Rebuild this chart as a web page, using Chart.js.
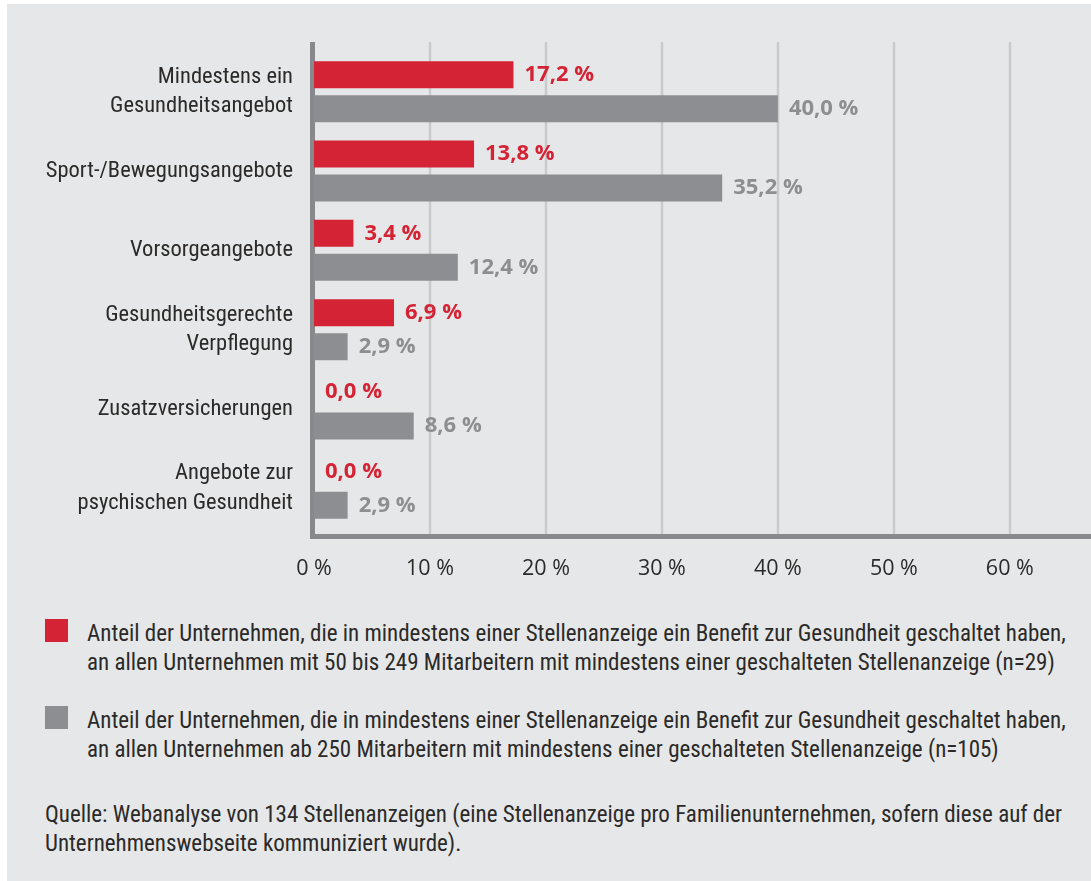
<!DOCTYPE html>
<html>
<head>
<meta charset="utf-8">
<script src="https://cdn.jsdelivr.net/npm/chart.js@4.4.1/dist/chart.umd.min.js"></script>
<style>
    body { margin: 0; background: #fff; font-family: "Roboto Condensed", "Open Sans", sans-serif; color: #2b2a29; }
    #panel { position: absolute; left: 7px; top: 4px; right: 0; bottom: 0; background: #e6e7e8; }
    #chart { position: absolute; left: 0; top: 0; }
    .legend { position: absolute; left: 45px; font-size: 23px; line-height: 29px; }
    .legend .box { position: absolute; left: 0; top: 0; width: 23px; height: 23px; }
    .legend p { margin: 0 0 0 42px; white-space: nowrap; }
    #source { position: absolute; left: 45px; top: 800px; font-size: 23px; line-height: 29px; margin: 0; white-space: nowrap; }
</style>
</head>
<body>
<div id="panel"></div>
<canvas id="chart" width="1091" height="600"></canvas>
<div class="legend" style="top:619px"><div class="box" style="background:#d42335"></div><p id="leg0"></p></div>
<div class="legend" style="top:706px"><div class="box" style="background:#8d8e91"></div><p id="leg1"></p></div>
<p id="source"></p>
<script>
const categories = [
    ['Mindestens ein', 'Gesundheitsangebot'],
    'Sport-/Bewegungsangebote',
    'Vorsorgeangebote',
    ['Gesundheitsgerechte', 'Verpflegung'],
    'Zusatzversicherungen',
    ['Angebote zur', 'psychischen Gesundheit']
];
const small = [17.2, 13.8, 3.4, 6.9, 0.0, 0.0];
const large = [40.0, 35.2, 12.4, 2.9, 8.6, 2.9];
const xTicks = [0, 10, 20, 30, 40, 50, 60];

const seriesNames = [
    ['Anteil der Unternehmen, die in mindestens einer Stellenanzeige ein Benefit zur Gesundheit geschaltet haben,',
     'an allen Unternehmen mit 50 bis 249 Mitarbeitern mit mindestens einer geschalteten Stellenanzeige (n=29)'],
    ['Anteil der Unternehmen, die in mindestens einer Stellenanzeige ein Benefit zur Gesundheit geschaltet haben,',
     'an allen Unternehmen ab 250 Mitarbeitern mit mindestens einer geschalteten Stellenanzeige (n=105)']
];
const sourceLines = [
    'Quelle: Webanalyse von 134 Stellenanzeigen (eine Stellenanzeige pro Familienunternehmen, sofern diese auf der',
    'Unternehmenswebseite kommuniziert wurde).'
];

const RED = '#d42335';
const GREY = '#8d8e91';
const FONT = '"Roboto Condensed", "Open Sans", sans-serif';
const NUM_FONT = '"Open Sans", sans-serif';

document.getElementById('leg0').innerHTML = seriesNames[0].join('<br>');
document.getElementById('leg1').innerHTML = seriesNames[1].join('<br>');
document.getElementById('source').innerHTML = sourceLines.join('<br>');

const fmt = v => v.toFixed(1).replace('.', ',') + ' %';

// grid lines and axis lines reach a little past the category band
const frame = {
    id: 'frame',
    beforeDatasetsDraw(chart) {
        const { ctx, chartArea } = chart;
        const x = chart.scales.x;
        const top = chartArea.top - 10;
        const bottom = chartArea.bottom + 6;
        const x0 = x.getPixelForValue(0);
        ctx.save();
        ctx.strokeStyle = '#c9cacc';
        ctx.lineWidth = 2.5;
        xTicks.slice(1).forEach(v => {
            const px = Math.round(x.getPixelForValue(v));
            ctx.beginPath();
            ctx.moveTo(px, top);
            ctx.lineTo(px, bottom);
            ctx.stroke();
        });
        ctx.fillStyle = '#88898c';
        ctx.fillRect(x0 - 4, top, 5, bottom - top + 5);
        ctx.fillRect(x0 - 4, bottom, chart.width, 5);
        ctx.restore();
    }
};

const valueLabels = {
    id: 'valueLabels',
    afterDatasetsDraw(chart) {
        const ctx = chart.ctx;
        ctx.save();
        ctx.font = 'bold 22px ' + NUM_FONT;
        ctx.textBaseline = 'middle';
        chart.data.datasets.forEach((ds, i) => {
            ctx.fillStyle = ds.labelColor;
            chart.getDatasetMeta(i).data.forEach((bar, j) => {
                ctx.fillText(fmt(ds.data[j]), bar.x + 11, bar.y);
            });
        });
        ctx.restore();
    }
};

const chart = new Chart(document.getElementById('chart'), {
    type: 'bar',
    data: {
        labels: categories,
        datasets: [
            { data: small, backgroundColor: RED, labelColor: RED },
            { data: large, backgroundColor: GREY, labelColor: GREY }
        ]
    },
    options: {
        indexAxis: 'y',
        responsive: false,
        animation: false,
        categoryPercentage: 0.857,
        barPercentage: 0.794,
        layout: { padding: { top: 52, right: 0, left: 0, bottom: 0 } },
        plugins: { legend: { display: false }, tooltip: { enabled: false } },
        scales: {
            x: {
                min: 0,
                max: 67,
                afterBuildTicks: s => { s.ticks = xTicks.map(v => ({ value: v })); },
                afterFit: s => { s.height = 72; },
                grid: { display: false, drawTicks: false },
                border: { display: false },
                ticks: {
                    padding: 28,
                    color: '#2b2a29',
                    font: { family: NUM_FONT, size: 21.5 },
                    callback: v => v + ' %'
                }
            },
            y: {
                afterFit: s => { s.width = 314; },
                grid: { display: false, drawTicks: false },
                border: { display: false },
                ticks: {
                    padding: 21,
                    color: '#2b2a29',
                    font: { family: FONT, size: 22.5, lineHeight: 1.31 }
                }
            }
        }
    },
    plugins: [frame, valueLabels]
});
</script>
</body>
</html>
